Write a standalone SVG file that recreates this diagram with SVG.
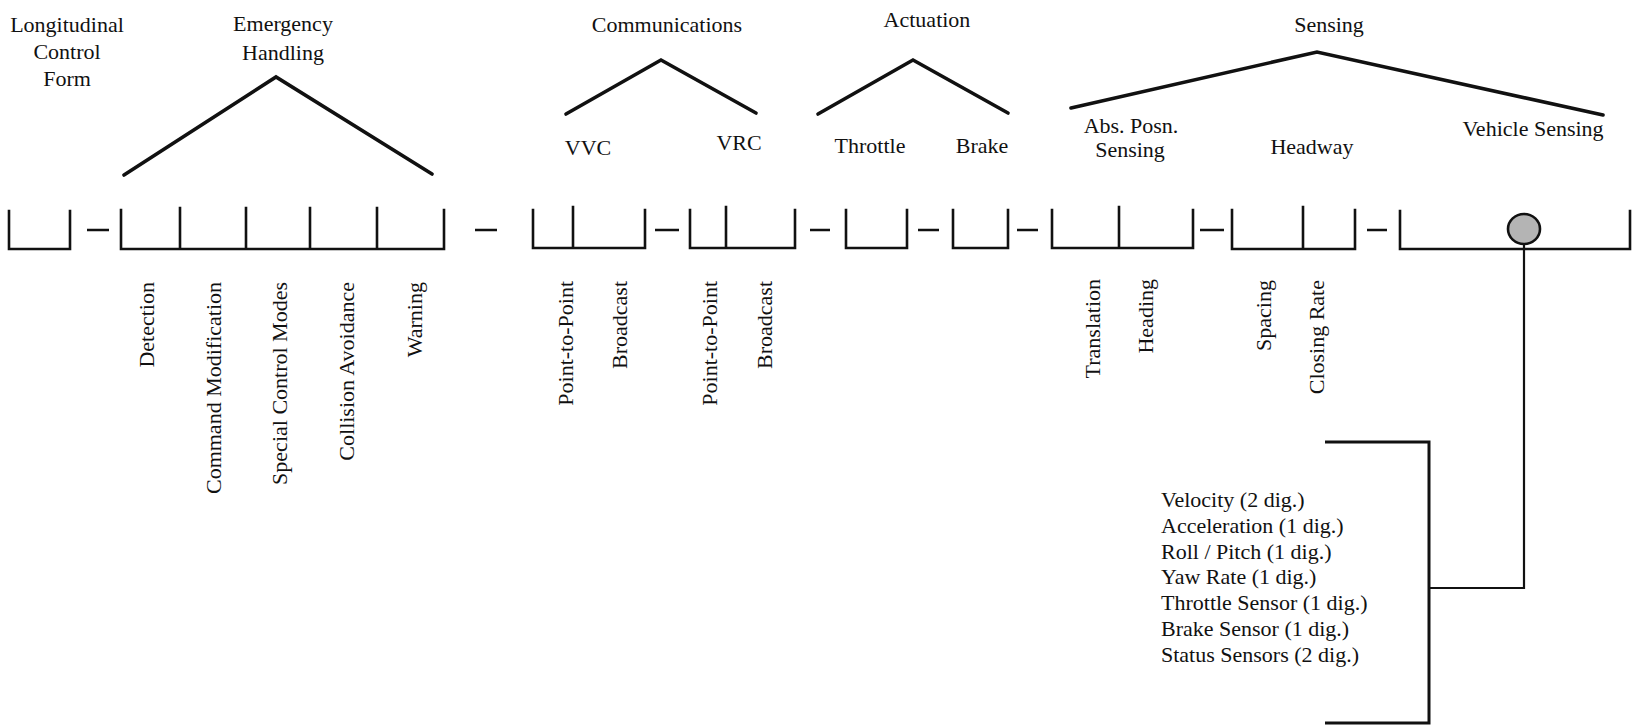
<svg xmlns="http://www.w3.org/2000/svg" width="1632" height="728" viewBox="0 0 1632 728">
  <style>
    text { font-family: "Liberation Serif", "Times New Roman", serif; font-size: 22px; fill: #111; }
    .c { text-anchor: middle; }
    .v { text-anchor: end; }
    .box { fill: none; stroke: #111; stroke-width: 2.6; stroke-linejoin: miter; stroke-linecap: square; }
    .tree { fill: none; stroke: #111; stroke-width: 3.6; stroke-linejoin: miter; stroke-linecap: round; }
    .dash { stroke: #111; stroke-width: 2.6; }
    .wire { fill: none; stroke: #111; stroke-width: 2.2; }
    .brk { fill: none; stroke: #111; stroke-width: 3; }
  </style>

  <!-- Longitudinal control form -->
  <g id="longitudinal">
    <text class="c" x="67" y="32">Longitudinal</text>
    <text class="c" x="67" y="59">Control</text>
    <text class="c" x="67" y="86">Form</text>
    <path class="box" d="M9 211 V249 H70 V211"/>
  </g>

  <!-- Emergency handling -->
  <g id="emergency">
    <text class="c" x="283" y="31">Emergency</text>
    <text class="c" x="283" y="60">Handling</text>
    <path class="tree" d="M124 175 L276 77 L432 174"/>
    <path class="box" d="M121 210 V249 H444 V210 M180 208 V249 M246 208 V249 M310 208 V249 M377 208 V249"/>
    <text class="v" transform="translate(154 282) rotate(-90)">Detection</text>
    <text class="v" transform="translate(221 282) rotate(-90)">Command Modification</text>
    <text class="v" transform="translate(287 282) rotate(-90)">Special Control Modes</text>
    <text class="v" transform="translate(354 282) rotate(-90)">Collision Avoidance</text>
    <text class="v" transform="translate(422 282) rotate(-90)">Warning</text>
  </g>

  <!-- Communications -->
  <g id="communications">
    <text class="c" x="667" y="32">Communications</text>
    <path class="tree" d="M566 114 L661 60 L756 113"/>
    <text class="c" x="588" y="155">VVC</text>
    <text class="c" x="739" y="150">VRC</text>
    <path class="box" d="M533 210 V248 H645 V210 M573 207 V248"/>
    <path class="box" d="M690 210 V248 H795 V210 M726 207 V248"/>
    <text class="v" transform="translate(573 281) rotate(-90)">Point-to-Point</text>
    <text class="v" transform="translate(627 281) rotate(-90)">Broadcast</text>
    <text class="v" transform="translate(717 281) rotate(-90)">Point-to-Point</text>
    <text class="v" transform="translate(772 281) rotate(-90)">Broadcast</text>
  </g>

  <!-- Actuation -->
  <g id="actuation">
    <text class="c" x="927" y="27">Actuation</text>
    <path class="tree" d="M818 114 L913 60 L1008 113"/>
    <text class="c" x="870" y="153">Throttle</text>
    <text class="c" x="982" y="153">Brake</text>
    <path class="box" d="M846 210 V248 H907 V210"/>
    <path class="box" d="M953 210 V248 H1008 V210"/>
  </g>

  <!-- Sensing -->
  <g id="sensing">
    <text class="c" x="1329" y="32">Sensing</text>
    <path class="tree" d="M1071 108 L1317 52 L1603 115"/>
    <text class="c" x="1131" y="133">Abs. Posn.</text>
    <text class="c" x="1130" y="157">Sensing</text>
    <text class="c" x="1312" y="154">Headway</text>
    <text class="c" x="1533" y="136">Vehicle Sensing</text>
    <path class="box" d="M1052 210 V248 H1193 V210 M1119 207 V248"/>
    <path class="box" d="M1232 210 V249 H1355 V210 M1303 207 V249"/>
    <path class="box" d="M1400 211 V249 H1630 V211"/>
    <text class="v" transform="translate(1100 279) rotate(-90)">Translation</text>
    <text class="v" transform="translate(1153 279) rotate(-90)">Heading</text>
    <text class="v" transform="translate(1271 280) rotate(-90)">Spacing</text>
    <text class="v" transform="translate(1324 280) rotate(-90)">Closing Rate</text>
  </g>

  <!-- Vehicle sensing detail -->
  <g id="vehicle-sensors">
    <ellipse cx="1524" cy="229" rx="16" ry="15" fill="#b4b4b4" stroke="#111" stroke-width="2.6"/>
    <path class="brk" d="M1325 442 H1429 V723 H1325"/>
    <text x="1161" y="507">Velocity (2 dig.)</text>
    <text x="1161" y="533">Acceleration (1 dig.)</text>
    <text x="1161" y="559">Roll / Pitch (1 dig.)</text>
    <text x="1161" y="584">Yaw Rate (1 dig.)</text>
    <text x="1161" y="610">Throttle Sensor (1 dig.)</text>
    <text x="1161" y="636">Brake Sensor (1 dig.)</text>
    <text x="1161" y="662">Status Sensors (2 dig.)</text>
  </g>

  <!-- Connectors -->
  <g id="connectors">
    <path class="dash" d="M87 230 H109 M475 230 H497 M655 230 H679 M810 230 H830 M918 230 H939 M1017 230 H1038 M1200 230 H1224 M1367 230 H1387"/>
    <path class="wire" d="M1524 244 V588 H1429"/>
  </g>
</svg>
